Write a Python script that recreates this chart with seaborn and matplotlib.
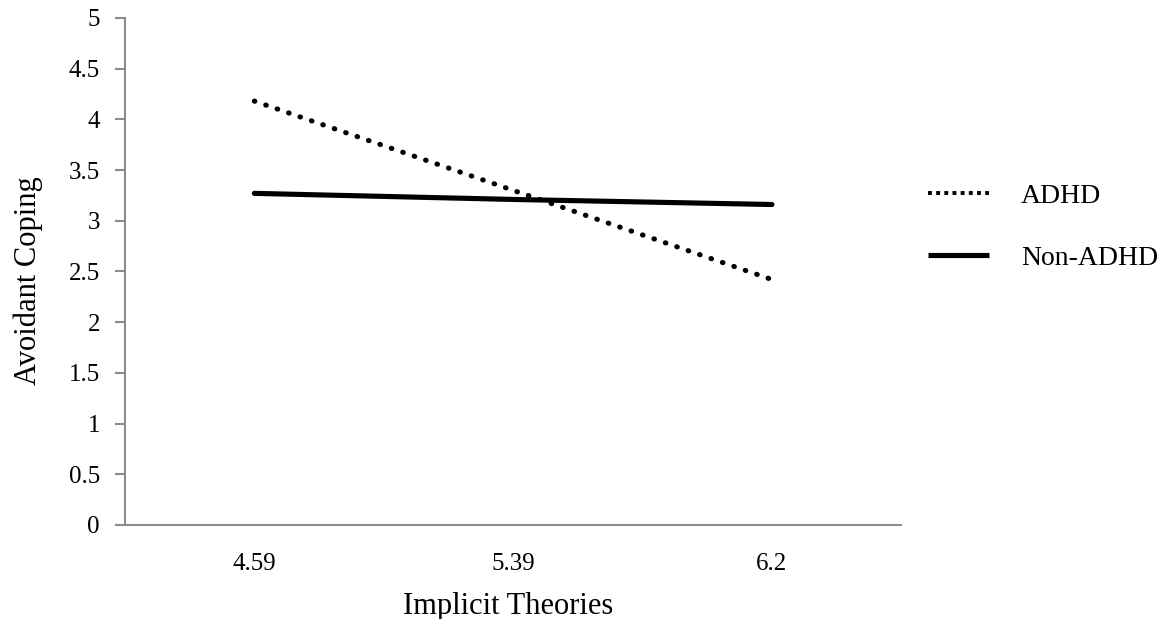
import matplotlib
matplotlib.use("Agg")
import matplotlib.pyplot as plt
import seaborn as sns
import pandas as pd

# data
theories = ["4.59", "5.39", "6.2"]
adhd = [4.18, 3.30, 2.42]
non_adhd = [3.27, 3.21, 3.16]
groups = ["ADHD", "Non-ADHD"]

df = pd.DataFrame({
    "Implicit Theories": theories * 2,
    "Avoidant Coping": adhd + non_adhd,
    "Group": [groups[0]] * 3 + [groups[1]] * 3,
})

sns.set_style("white")
plt.rcParams["font.family"] = ["Liberation Serif", "DejaVu Serif"]
plt.rcParams["text.color"] = "black"
plt.rcParams["axes.labelcolor"] = "black"

fig = plt.figure(figsize=(11.71, 6.19), dpi=100)
ax = fig.add_axes([0.1067, 0.152, 0.663, 0.819])

sns.lineplot(data=df, x="Implicit Theories", y="Avoidant Coping", hue="Group",
             style="Group", palette={"ADHD": "black", "Non-ADHD": "black"},
             dashes={"ADHD": (0.1, 2.25), "Non-ADHD": ""}, linewidth=3.7,
             dash_capstyle="round", solid_capstyle="round", ax=ax)

ax.set_xlim(-0.5, 2.5)
ax.set_ylim(0, 5)
ax.set_yticks([0, 0.5, 1, 1.5, 2, 2.5, 3, 3.5, 4, 4.5, 5])
ax.set_yticklabels(["0", "0.5", "1", "1.5", "2", "2.5", "3", "3.5", "4", "4.5", "5"])

for s in ["top", "right"]:
    ax.spines[s].set_visible(False)
for s in ["left", "bottom"]:
    ax.spines[s].set_color("#8c8c8c")
    ax.spines[s].set_linewidth(1.5)
ax.tick_params(axis="y", length=7, width=1.5, color="#8c8c8c", labelcolor="black",
               labelsize=18, pad=11, direction="out", left=True)
ax.tick_params(axis="x", length=0, labelsize=18, labelcolor="black", pad=20)
ax.set_xlabel("Implicit Theories", fontsize=22)
ax.set_ylabel("Avoidant Coping", fontsize=22)
ax.xaxis.set_label_coords(0.494, -0.133)
ax.yaxis.set_label_coords(-0.1055, 0.482)

handles, labels = ax.get_legend_handles_labels()
leg = ax.legend(handles=handles, labels=labels, loc="center left",
                bbox_to_anchor=(0.7925, 0.633), bbox_transform=fig.transFigure,
                frameon=False, fontsize=20, borderpad=0, borderaxespad=0,
                handlelength=2.2, handletextpad=1.15, labelspacing=1.3)
lines = leg.get_lines()
lines[0].set_linewidth(2.8)
lines[0].set_dashes((1, 1.1))
lines[0].set_dash_capstyle("butt")
lines[1].set_linewidth(3.7)
lines[1].set_solid_capstyle("butt")

fig.savefig("out.png", dpi=100)
